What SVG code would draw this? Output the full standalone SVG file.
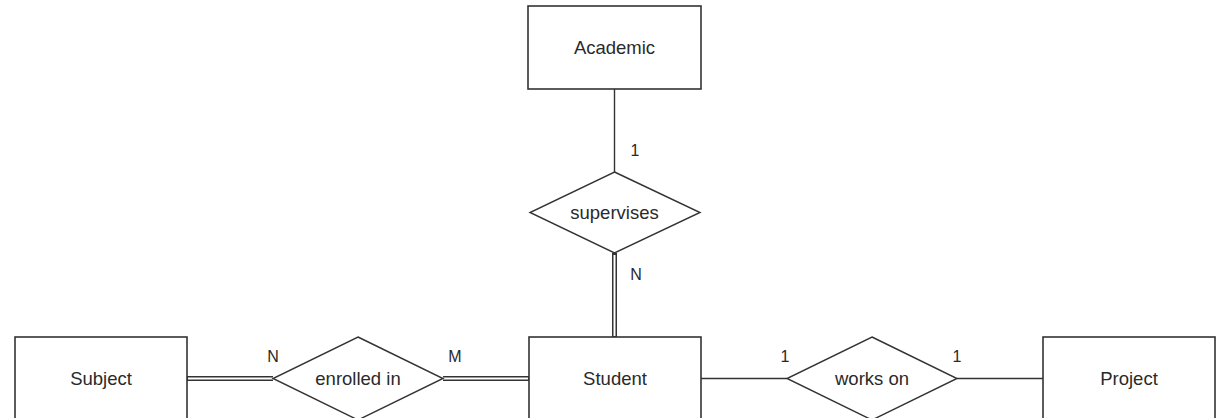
<svg xmlns="http://www.w3.org/2000/svg" width="1217" height="418" viewBox="0 0 1217 418">
<style>
.box{fill:#fff;stroke:#333;stroke-width:1.6}
.dia{fill:#fff;stroke:#333;stroke-width:1.4}
.t{font-family:"Liberation Sans",Arial,sans-serif;font-size:18.5px;fill:#2a2a2a;text-anchor:middle;dominant-baseline:central}
.lb{font-family:"Liberation Sans",Arial,sans-serif;font-size:16px;fill:#2a2a2a;text-anchor:middle}
.single{stroke:#333;stroke-width:1.4;fill:none}
.dbl-o{stroke:#333;stroke-width:5;fill:none}
.dbl-i{stroke:#fff;stroke-width:2;fill:none}
</style>
<rect width="1217" height="418" fill="#fff"/>
<g id="connectors">
<line class="single" x1="614.5" y1="89" x2="614.5" y2="172"/>
<line class="dbl-o" x1="614.5" y1="253" x2="614.5" y2="337"/>
<line class="dbl-i" x1="614.5" y1="255" x2="614.5" y2="336"/>
<line class="dbl-o" x1="187" y1="378.5" x2="273" y2="378.5"/>
<line class="dbl-i" x1="188" y1="378.5" x2="275" y2="378.5"/>
<line class="dbl-o" x1="443" y1="378.5" x2="529" y2="378.5"/>
<line class="dbl-i" x1="441" y1="378.5" x2="528" y2="378.5"/>
<line class="single" x1="701" y1="378.5" x2="787" y2="378.5"/>
<line class="single" x1="957" y1="378.5" x2="1043" y2="378.5"/>
<text class="lb" x="635" y="156">1</text>
<text class="lb" x="636" y="280">N</text>
<text class="lb" x="273" y="362">N</text>
<text class="lb" x="455" y="362">M</text>
<text class="lb" x="785" y="362">1</text>
<text class="lb" x="957" y="362">1</text>
</g>
<g id="academic">
<rect class="box" x="528" y="6" width="173" height="83"/>
<text class="t" x="614.5" y="47.5">Academic</text>
</g>
<g id="supervises">
<polygon class="dia" points="614.5,172 700,212.5 614.5,253 530,212.5"/>
<text class="t" x="614.5" y="212.5">supervises</text>
</g>
<g id="subject">
<rect class="box" x="15" y="337" width="172" height="84"/>
<text class="t" x="101" y="378.5">Subject</text>
</g>
<g id="enrolled-in">
<polygon class="dia" points="358,337 443,378.5 358,420 273,378.5"/>
<text class="t" x="358" y="378.5">enrolled in</text>
</g>
<g id="student">
<rect class="box" x="529" y="337" width="172" height="84"/>
<text class="t" x="615" y="378.5">Student</text>
</g>
<g id="works-on">
<polygon class="dia" points="872,337 957,378.5 872,420 787,378.5"/>
<text class="t" x="872" y="378.5">works on</text>
</g>
<g id="project">
<rect class="box" x="1043" y="337" width="172" height="84"/>
<text class="t" x="1129" y="378.5">Project</text>
</g>
</svg>
